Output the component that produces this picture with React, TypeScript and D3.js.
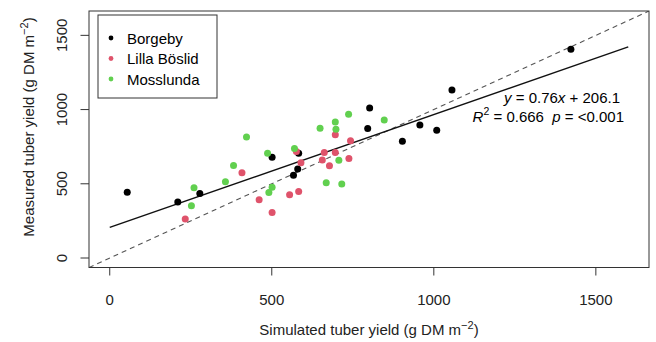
import React from "react";
import * as d3 from "d3";

const sites = ["Borgeby", "Lilla Böslid", "Mosslunda"];
const siteColors = ["#000000", "#DF536B", "#61D04F"];

const borgebySim = [54, 210, 278, 501, 583, 580, 567, 802, 796, 903, 957, 1009, 1056, 1423];
const borgebyMeas = [443, 378, 435, 678, 706, 599, 557, 1010, 872, 787, 896, 860, 1131, 1406];

const lillaSim = [233, 408, 461, 501, 555, 583, 576, 590, 662, 696, 656, 678, 696, 743, 738];
const lillaMeas = [263, 574, 393, 307, 426, 448, 718, 642, 710, 710, 661, 621, 830, 790, 671];

const mossSim = [260, 252, 357, 382, 422, 487, 501, 491, 570, 649, 696, 698, 737, 707, 668, 716, 847];
const mossMeas = [473, 352, 513, 623, 815, 706, 476, 442, 738, 874, 917, 867, 968, 658, 507, 499, 930];

const xTicks = [0, 500, 1000, 1500];
const yTicks = [0, 500, 1000, 1500];
const slope = 0.76;
const intercept = 206.1;
const fitRange = [0, 1600];
const axisDomain = [-64, 1664];

const W = 656;
const H = 342;
const L = 89, R = 649, T = 11, B = 267.5;
const FONT = "Liberation Sans, Arial, sans-serif";
const NB = "\u00A0";

export default function App() {
  const x = d3.scaleLinear().domain(axisDomain).range([L, R]);
  const y = d3.scaleLinear().domain(axisDomain).range([B, T]);

  const series = [
    { sim: borgebySim, meas: borgebyMeas, color: siteColors[0] },
    { sim: lillaSim, meas: lillaMeas, color: siteColors[1] },
    { sim: mossSim, meas: mossMeas, color: siteColors[2] },
  ];

  const fitLine = d3.line<number>().x((v) => x(v)).y((v) => y(slope * v + intercept));
  const oneToOne = d3.line<number>().x((v) => x(v)).y((v) => y(v));

  return (
    <svg
      width={W}
      height={H}
      style={{ position: "absolute", left: 0, top: 0, background: "#fff" }}
      fontFamily={FONT}
    >
      <defs>
        <clipPath id="plotclip">
          <rect x={L} y={T} width={R - L} height={B - T} />
        </clipPath>
      </defs>
      <rect x={0} y={0} width={W} height={H} fill="#fff" />

      {/* 1:1 dashed line */}
      <path
        d={oneToOne(axisDomain) || ""}
        stroke="#555"
        strokeWidth={1.1}
        strokeDasharray="5,4"
        fill="none"
        clipPath="url(#plotclip)"
      />
      {/* regression line */}
      <path d={fitLine(fitRange) || ""} stroke="#111" strokeWidth={1.5} fill="none" />

      {/* points */}
      {series.map((s, si) =>
        s.sim.map((v, i) => (
          <circle key={`${si}-${i}`} cx={x(v)} cy={y(s.meas[i])} r={3.5} fill={s.color} />
        ))
      )}

      {/* box */}
      <rect x={L} y={T} width={R - L} height={B - T} fill="none" stroke="#333" strokeWidth={1} />

      {/* x axis ticks */}
      {xTicks.map((t) => (
        <g key={`xt${t}`}>
          <line x1={x(t)} x2={x(t)} y1={B} y2={B + 8} stroke="#333" strokeWidth={1} />
          <text x={x(t)} y={305} fontSize={15} textAnchor="middle" fill="#222">
            {t}
          </text>
        </g>
      ))}
      {/* y axis ticks */}
      {yTicks.map((t) => (
        <g key={`yt${t}`}>
          <line x1={L} x2={L - 8.5} y1={y(t)} y2={y(t)} stroke="#333" strokeWidth={1} />
          <text
            transform={`translate(66.5,${y(t)}) rotate(-90)`}
            fontSize={15}
            textAnchor="middle"
            fill="#222"
          >
            {t}
          </text>
        </g>
      ))}

      {/* axis titles */}
      <text x={369} y={335} fontSize={15} textAnchor="middle" fill="#222">
        Simulated tuber yield (g DM m
        <tspan fontSize={11} dy={-6}>−2</tspan>
        <tspan dy={6}>)</tspan>
      </text>
      <text transform={`translate(33.5,127) rotate(-90)`} fontSize={15} textAnchor="middle" fill="#222">
        Measured tuber yield (g DM m
        <tspan fontSize={11} dy={-6}>−2</tspan>
        <tspan dy={6}>)</tspan>
      </text>

      {/* legend */}
      <rect x={98} y={15} width={119} height={83} fill="#fff" stroke="#333" strokeWidth={1} />
      {sites.map((name, i) => (
        <g key={name}>
          <circle cx={111} cy={38 + i * 20.5} r={2.4} fill={siteColors[i]} />
          <text x={127} y={43.5 + i * 20.5} fontSize={15} fill="#000">
            {name}
          </text>
        </g>
      ))}

      {/* annotation */}
      <text x={620} y={103} fontSize={15} textAnchor="end" fill="#000">
        <tspan fontStyle="italic">y</tspan>
        <tspan>{`${NB}=${NB}0.76`}</tspan>
        <tspan fontStyle="italic">x</tspan>
        <tspan>{`${NB}+${NB}206.1`}</tspan>
      </text>
      <text x={624} y={121.5} fontSize={15} textAnchor="end" fill="#000">
        <tspan fontStyle="italic">R</tspan>
        <tspan fontSize={10.5} dy={-7}>2</tspan>
        <tspan dy={7}>{`${NB}=${NB}0.666${NB}${NB}`}</tspan>
        <tspan fontStyle="italic">p</tspan>
        <tspan>{`${NB}=${NB}<0.001`}</tspan>
      </text>
    </svg>
  );
}
